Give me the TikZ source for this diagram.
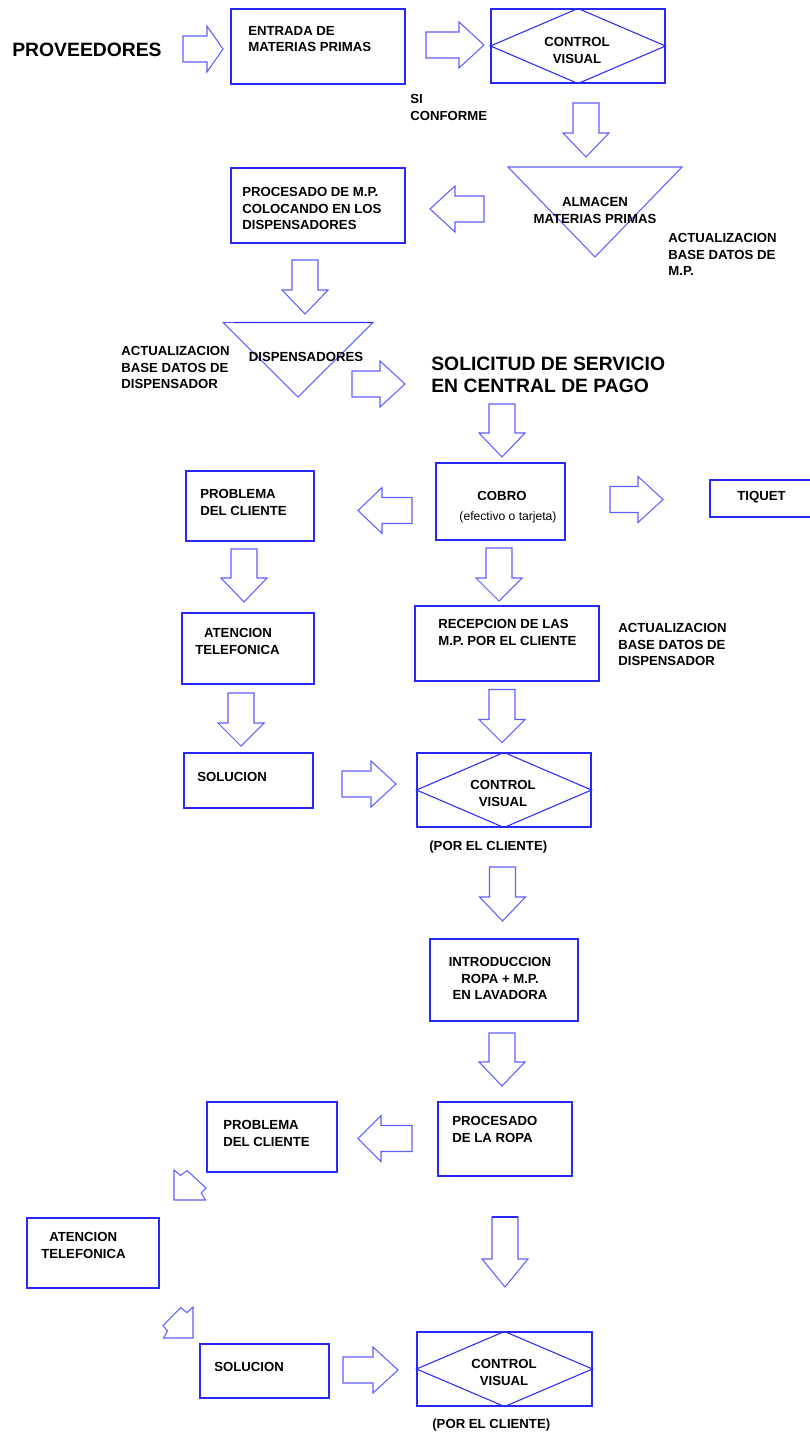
\documentclass[tikz,border=0pt]{standalone}
\usepackage{fontspec}
\setmainfont{Liberation Sans}
\definecolor{boxBlue}{RGB}{40,40,250}
\definecolor{arrowBlue}{RGB}{95,95,255}

\begin{document}
\begin{tikzpicture}[x=0.02cm, y=-0.02cm,
    box/.style={draw=boxBlue, line width=0.6pt, inner sep=0pt},
    boxline/.style={draw=boxBlue, line width=0.6pt},
    arrline/.style={draw=arrowBlue, line width=0.6pt},
    pics/barrow/.style 2 args={code={
      \draw[arrline] (-#1/2,-13) -- (#1/2-#2,-13) -- (#1/2-#2,-23) -- (#1/2,0)
        -- (#1/2-#2,23) -- (#1/2-#2,13) -- (-#1/2,13) -- cycle;}},
    lbl/.style={font=\fontsize{7.5}{9.4}\selectfont\bfseries, inner sep=0pt, align=left, anchor=north west},
    clbl/.style={lbl, align=center, anchor=north},
    bigtxt/.style={font=\fontsize{11}{12.6}\selectfont\bfseries, inner sep=0pt, align=left, anchor=north west}]
    \useasboundingbox (0,0) rectangle (810,1436);

    % entrada de materias primas
    \node[bigtxt] (prov) at (12,43) {PROVEEDORES};
    \pic (a1) at (203,49) {barrow={40}{16}};
    \node[box, minimum width=3.48cm, minimum height=1.5cm] (entrada) at (318,46.5) {};
    \draw[boxline, line width=1.1pt] (entrada.north west) -- (entrada.south west);
    \node[lbl] (entradaT) at (248,26) {ENTRADA DE\\MATERIAS PRIMAS};
    \pic (a2) at (455,45) {barrow={58}{25}};
    \node[box, minimum width=3.48cm, minimum height=1.48cm] (cv1) at (578,46) {};
    \draw[boxline] (cv1.west) -- (cv1.north) -- (cv1.east) -- (cv1.south) -- cycle;
    \node[clbl] (cv1T) at (577,37) {CONTROL\\VISUAL};
    \node[lbl] (si) at (410,94) {SI\\CONFORME};
    \pic[rotate=-90] (a3) at (586,130) {barrow={54}{24}};

    % almacen y dispensadores
    \draw[arrline] (508,167) -- (682,167) -- (595,257) -- cycle;
    \node[clbl] (almacen) at (595,197) {ALMACEN\\MATERIAS PRIMAS};
    \node[lbl] (act1) at (668,233) {ACTUALIZACION\\BASE DATOS DE\\M.P.};
    \pic[rotate=180] (a4) at (457,209) {barrow={54}{25}};
    \node[box, minimum width=3.48cm, minimum height=1.5cm] (procmp) at (318,205.5) {};
    \node[lbl] (procmpT) at (242,187) {PROCESADO DE M.P.\\COLOCANDO EN LOS\\DISPENSADORES};
    \pic[rotate=-90] (a5) at (305,287) {barrow={54}{24}};
    \draw[arrline] (223,322.5) -- (373,322.5) -- (298,397) -- cycle;
    \draw[boxline, line width=1.1pt] (234,322.5) -- (373,322.5);
    \node[clbl] (disp) at (306,352) {DISPENSADORES};
    \node[lbl] (act2) at (121,346) {ACTUALIZACION\\BASE DATOS DE\\DISPENSADOR};
    \pic (a6) at (378.5,384) {barrow={53}{25}};
    \node[bigtxt] (solic) at (431,357) {SOLICITUD DE SERVICIO\\EN CENTRAL DE PAGO};
    \pic[rotate=-90] (a7) at (502,430.5) {barrow={53}{24}};

    % cobro
    \node[box, minimum width=2.58cm, minimum height=1.54cm] (cobro) at (500.5,501.5) {};
    \node[clbl] (cobroT) at (502,491) {COBRO};
    \node[font=\fontsize{6.9}{8}\selectfont, inner sep=0pt, anchor=north] (pago) at (508,511) {(efectivo o tarjeta)};
    \pic[rotate=180] (a8) at (385,510.5) {barrow={54}{24}};
    \node[box, minimum width=2.56cm, minimum height=1.4cm] (prob1) at (250,506) {};
    \node[lbl] (prob1T) at (200,489) {PROBLEMA\\DEL CLIENTE};
    \pic (a9) at (636.5,499.5) {barrow={53}{25}};
    \node[box, minimum width=2.2cm, minimum height=0.74cm] (tiquet) at (765,498.5) {};
    \node[lbl] (tiquetT) at (737,491) {TIQUET};

    % recepcion y atencion
    \pic[rotate=-90] (a10) at (499,574.5) {barrow={53}{23}};
    \node[box, minimum width=3.68cm, minimum height=1.5cm] (recep) at (507,643.5) {};
    \node[lbl] (recepT) at (438,619) {RECEPCION DE LAS\\M.P. POR EL CLIENTE};
    \node[lbl] (act3) at (618,623) {ACTUALIZACION\\BASE DATOS DE\\DISPENSADOR};
    \pic[rotate=-90] (a11) at (244,575.5) {barrow={53}{24}};
    \node[box, minimum width=2.64cm, minimum height=1.42cm] (aten1) at (248,648.5) {};
    \node[lbl] (aten1T) at (195,628) {\hspace*{5pt}ATENCION\\TELEFONICA};
    \pic[rotate=-90] (a12) at (241,719.5) {barrow={53}{23}};
    \node[box, minimum width=2.58cm, minimum height=1.1cm] (sol1) at (248.5,780.5) {};
    \node[lbl] (sol1T) at (197,772) {SOLUCION};
    \pic (a13) at (369,784) {barrow={54}{25}};
    \pic[rotate=-90] (a14) at (502,716) {barrow={53}{23}};
    \node[box, minimum width=3.48cm, minimum height=1.48cm] (cv2) at (504,790) {};
    \draw[boxline] (cv2.west) -- (cv2.north) -- (cv2.east) -- (cv2.south) -- cycle;
    \node[clbl] (cv2T) at (503,780) {CONTROL\\VISUAL};
    \node[lbl] (por1) at (429,841) {(POR EL CLIENTE)};

    % lavado
    \pic[rotate=-90] (a15) at (502.5,894) {barrow={54}{24}};
    \node[box, minimum width=2.96cm, minimum height=1.64cm] (intro) at (504,980) {};
    \node[clbl] (introT) at (500,957) {INTRODUCCION\\ROPA + M.P.\\EN LAVADORA};
    \pic[rotate=-90] (a16) at (502,1059.5) {barrow={53}{24}};
    \node[box, minimum width=2.68cm, minimum height=1.48cm] (ropa) at (505,1139) {};
    \node[lbl] (ropaT) at (452,1116) {PROCESADO\\DE LA ROPA};
    \pic[rotate=180] (a17) at (385,1138.5) {barrow={54}{23}};
    \node[box, minimum width=2.6cm, minimum height=1.4cm] (prob2) at (272,1137) {};
    \node[lbl] (prob2T) at (223,1120) {PROBLEMA\\DEL CLIENTE};
    \draw[arrline] (174,1170) -- (180.4,1175.4) -- (187.1,1170.6) -- (206,1188)
      -- (201.2,1193.1) -- (205.4,1200) -- (174,1200) -- cycle;
    \node[box, minimum width=2.64cm, minimum height=1.4cm] (aten2) at (93,1253) {};
    \node[lbl] (aten2T) at (41,1232) {\hspace*{4.5pt}ATENCION\\TELEFONICA};
    \draw[arrline] (193,1307) -- (187,1312.6) -- (180.7,1307.6) -- (163,1325.6)
      -- (167.5,1330.9) -- (163.6,1338) -- (193,1338) -- cycle;
    \node[box, minimum width=2.58cm, minimum height=1.08cm] (sol2) at (264.5,1371) {};
    \node[lbl] (sol2T) at (214,1362) {SOLUCION};
    \pic (a18) at (370.5,1370) {barrow={55}{25}};
    \pic[rotate=-90] (a19) at (505,1252) {barrow={70}{28}};
    \draw[boxline, line width=1.1pt] (492,1217) -- (518,1217);
    \node[box, minimum width=3.5cm, minimum height=1.48cm] (cv3) at (504.5,1369) {};
    \draw[boxline] (cv3.west) -- (cv3.north) -- (cv3.east) -- (cv3.south) -- cycle;
    \node[clbl] (cv3T) at (504,1359) {CONTROL\\VISUAL};
    \node[lbl] (por2) at (432,1419) {(POR EL CLIENTE)};
\end{tikzpicture}
\end{document}
